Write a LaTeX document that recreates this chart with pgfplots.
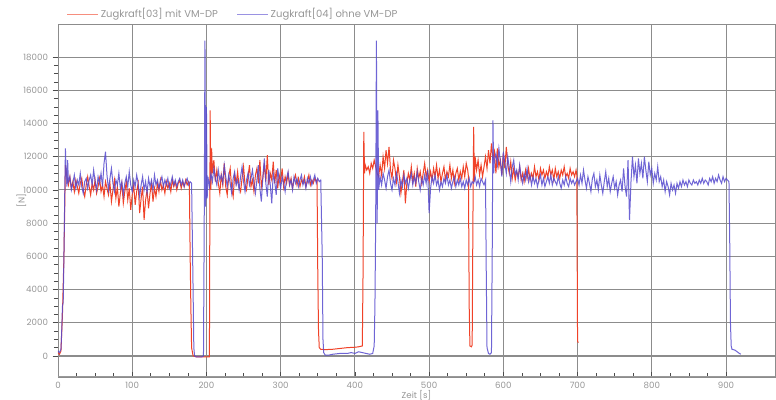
\documentclass[border=0pt]{standalone}
\usepackage{pgfplots}
\pgfplotsset{compat=1.18}
\usepackage{fontspec}
\setmainfont{Poppins}
\definecolor{cred}{RGB}{240,66,40}
\definecolor{cblue}{RGB}{86,74,206}
\definecolor{gridc}{RGB}{140,140,140}
\definecolor{txtc}{RGB}{150,150,150}
\begin{document}
\begin{tikzpicture}
\useasboundingbox (-43.5pt,-17.25pt) rectangle (538.5pt,282.75pt);
\begin{axis}[
 at={(0,0)}, anchor=south west,
 scale only axis, width=537.75pt, height=264.75pt,
 xmin=0, xmax=966, ymin=-1270, ymax=20000,
 xtick={0,100,...,900}, ytick={0,2000,...,18000},
 minor x tick num=3, minor y tick num=3,
 scaled y ticks=false,
 /pgf/number format/1000 sep={},
 /pgf/number format/assume math mode=true,
 grid=major, major grid style={gridc, line width=0.7pt},
 axis line style={gridc, line width=0.6pt},
 tick pos=left, ytick align=outside, xtick align=inside,
 tick style={black!70, line width=0.5pt},
 major tick length=4pt, minor tick length=3pt,
 tick label style={font=\fontsize{6.5}{7}\selectfont, text=txtc},
 label style={font=\fontsize{6.5}{7}\selectfont, text=txtc},
 xlabel={Zeit [s]}, ylabel={[N]},
 xlabel style={yshift=5pt}, ylabel style={yshift=-9pt},
 legend style={at={(0.01,1)}, anchor=south west, draw=none, fill=none,
   font=\fontsize{7.5}{9}\selectfont\color{txtc}, inner sep=1pt,
   /tikz/every even column/.append style={column sep=12pt}},
 legend columns=2, legend cell align=left,
 legend image code/.code={\draw[#1, opacity=0.6] (0cm,0cm) -- (0.8cm,0cm);},
]
\draw[gridc, line width=1pt] (axis cs:0,0) -- (axis cs:966,0);
\draw[gray!80, line width=2pt] (rel axis cs:0,0) -- (rel axis cs:1,0);
\addplot[cred, line width=0.75pt] coordinates {
(0,200)(2,100)(4,300)(6,2500)(8,6000)(10,11500)(12,10800)(14,10300)(16,10800)(18,10100)(20,10500)(22,9900)(24,10600)(26,10200)(28,9800)(30,10400)(32,10700)(34,10000)(36,9600)(38,10300)(40,10800)(42,10200)(44,9700)(46,10400)(48,10000)(50,10600)(52,9800)(54,10200)(56,10700)(58,9900)(60,10300)(62,9600)(64,10500)(66,10100)(68,9700)(70,10400)(72,9300)(74,10000)(76,10600)(78,9500)(80,10200)(82,9000)(84,9800)(86,10400)(88,9200)(90,9900)(92,10500)(94,9400)(96,10100)(98,8800)(100,9700)(102,10300)(104,9100)(106,9900)(108,10400)(110,8600)(112,9500)(114,10200)(116,8200)(118,9400)(120,10000)(122,8900)(124,9800)(126,10400)(128,9300)(130,10100)(132,9600)(134,10400)(136,9900)(138,10600)(140,10000)(142,10300)(144,9800)(146,10500)(148,10100)(150,10400)(152,9900)(154,10600)(156,10200)(158,10500)(160,10000)(162,10400)(164,10600)(166,10100)(168,10500)(170,10200)(172,10600)(174,10300)(176,10500)(177,10400)(178,6200)(179,3000)(180,500)(182,0)(186,-50)(190,-50)(195,-50)(200,-50)(204,-50)
(205,14800)(206,10000)(207,12500)(208,11000)(210,11800)(212,10500)(214,11200)(216,10400)(218,9800)(220,10900)(222,10300)(224,11600)(226,10200)(228,9700)(230,10800)(232,11300)(234,10100)(236,9600)(238,10900)(240,10400)(242,11100)(244,10200)(246,9900)(248,10700)(250,11400)(252,10300)(254,10000)(256,10800)(258,11500)(260,10200)(262,10600)(264,9900)(266,10900)(268,11300)(270,10400)(272,11800)(274,10200)(276,10700)(278,11600)(280,10500)(282,12100)(284,10300)(286,11000)(288,10600)(290,11700)(292,10400)(294,11200)(296,10100)(298,10900)(300,10500)(302,11300)(304,10200)(306,10800)(308,10400)(310,11000)(312,10300)(314,10700)(316,10100)(318,10600)(320,10900)(322,10300)(324,10700)(326,10200)(328,10600)(330,10400)(332,10800)(334,10200)(336,10500)(338,10900)(340,10300)(342,10600)(344,10400)(346,10700)(348,10500)(349,10600)
(350,5000)(351,1500)(352,500)(354,400)(360,380)(370,400)(380,450)(390,500)(400,520)(405,550)(410,600)(411,5000)(412,13500)(413,11000)(414,11500)(416,11200)(418,11400)(420,11000)(422,11600)(424,11300)(426,11800)(428,11400)(430,11000)(432,10800)(434,11500)(436,10900)(438,12000)(440,11300)(442,12400)(444,11600)(446,12600)(448,11200)(450,10700)(452,11800)(454,11300)(456,10500)(458,11500)(460,10800)(462,9800)(464,10500)(466,11200)(468,9200)(470,10400)(472,11000)(474,10600)(476,11400)(478,10500)(480,11000)(482,10200)(484,11300)(486,10700)(488,11100)(490,10400)(492,11000)(494,11600)(496,10800)(498,11200)(500,10500)(502,11100)(504,10600)(506,11300)(508,10800)(510,11500)(512,10700)(514,11200)(516,10500)(518,11000)(520,11400)(522,10600)(524,11100)(526,10800)(528,11500)(530,10700)(532,11200)(534,10400)(536,11000)(538,11300)(540,10600)(542,11100)(544,10700)(546,11400)(548,10800)(550,11600)(552,11200)(553,10800)
(554,3000)(555,600)(557,550)(558,650)(559,8000)(560,13800)(561,10500)(562,12000)(564,11200)(566,11800)(568,10900)(570,11500)(572,10800)(574,11400)(576,12000)(578,11300)(580,12400)(582,11600)(584,12800)(586,11800)(588,12300)(590,11000)(592,12500)(594,11400)(596,11800)(598,10900)(600,12200)(602,11300)(604,12600)(606,11500)(608,11000)(610,11700)(612,10700)(614,11300)(616,10600)(618,11100)(620,10800)(622,11400)(624,10600)(626,11000)(628,10500)(630,11200)(632,10700)(634,11300)(636,10600)(638,11000)(640,10700)(642,11400)(644,10800)(646,11100)(648,10600)(650,11300)(652,10900)(654,11200)(656,10700)(658,11100)(660,10800)(662,11400)(664,10900)(666,11200)(668,10600)(670,11300)(672,10800)(674,11100)(676,10700)(678,11200)(680,10900)(682,11400)(684,10800)(686,11000)(688,10700)(690,11300)(692,10900)(694,11100)(696,10800)(698,11200)(699,10900)(700,900)(701,800)
};
\addlegendentry{Zugkraft[03] mit VM-DP}
\addplot[cblue, line width=0.75pt, opacity=0.85] coordinates {
(0,300)(2,200)(4,400)(5,1500)(6,3000)(7,3200)(8,6000)(9,9500)(10,12500)(11,11000)(12,10200)(13,11800)(14,10500)(16,10800)(18,10000)
(20,10400)(22,10900)(24,10100)(26,10600)(28,10300)(30,11000)(32,10200)(34,9800)(36,10500)(38,10700)(40,10100)(42,10600)(44,10900)(46,10300)(48,11200)(50,10500)(52,10000)(54,10800)(56,10400)(58,11000)(60,10200)(62,11600)(64,12300)(66,10900)(68,10000)(70,10700)(72,11300)(74,10400)(76,9900)(78,10600)(80,10300)(82,11000)(84,10100)(86,10500)(88,9700)(90,10400)(92,10800)(94,10200)(96,11100)(98,10300)(100,9900)(102,10600)(104,10200)(106,10900)(108,10400)(110,9600)(112,10300)(114,10800)(116,10000)(118,10500)(120,9800)(122,10700)(124,10200)(126,10600)(128,10000)(130,10900)(132,10300)(134,10600)(136,10100)(138,10500)(140,10800)(142,10200)(144,10600)(146,10300)(148,10700)(150,10100)(152,10400)(154,10800)(156,10300)(158,10600)(160,10200)(162,10500)(164,10700)(166,10300)(168,10600)(170,10200)(172,10500)(174,10700)(176,10300)(178,10500)(180,10400)
(182,4000)(183,500)(184,0)(186,-50)(190,-50)(194,-50)(196,0)(197,8000)(198,19000)(199,9000)(200,15000)(201,9500)(202,10800)(204,10200)
(206,11000)(208,10500)(210,11300)(212,10700)(214,10300)(216,11200)(218,10600)(220,10900)(222,10400)(224,11500)(226,10800)(228,10200)(230,10900)(232,10400)(234,9800)(236,10700)(238,11100)(240,10300)(242,10600)(244,10000)(246,10800)(248,11400)(250,10500)(252,9900)(254,10600)(256,11000)(258,10300)(260,10700)(262,11200)(264,10400)(266,9800)(268,10600)(270,11500)(272,10100)(274,9300)(276,10800)(278,11900)(280,10400)(282,9600)(284,11200)(286,10300)(288,9200)(290,11000)(292,10500)(294,9700)(296,11300)(298,10600)(300,10100)(302,10800)(304,10400)(306,9900)(308,10700)(310,11100)(312,10300)(314,10600)(316,10000)(318,10800)(320,10400)(322,10700)(324,10200)(326,10600)(328,10900)(330,10300)(332,10600)(334,10100)(336,10700)(338,10400)(340,10800)(342,10300)(344,10600)(346,10900)(348,10400)(350,10700)(352,10500)(354,10600)
(356,6000)(357,1000)(358,200)(360,50)(365,50)(370,100)(380,150)(390,150)(395,200)(400,150)(405,250)(410,200)(415,150)(420,100)(424,150)(426,600)(427,3000)(428,8000)(429,19000)(430,8000)(431,14800)(432,10000)
(434,10800)(436,10300)(438,11000)(440,10600)(442,10100)(444,10800)(446,11200)(448,10400)(450,10000)(452,10700)(454,10300)(456,11000)(458,10500)(460,9800)(462,10600)(464,10200)(466,10900)(468,10400)(470,10700)(472,10100)(474,10600)(476,11000)(478,10300)(480,10800)(482,10400)(484,11100)(486,10500)(488,10000)(490,10700)(492,10300)(494,10900)(496,10400)(498,11200)(500,8600)(502,10100)(504,10800)(506,10400)(508,10900)(510,10300)(512,10600)(514,10000)(516,10500)(518,10200)(520,10700)(522,10400)(524,10900)(526,10300)(528,10600)(530,10100)(532,10500)(534,10800)(536,10200)(538,10600)(540,10300)(542,10700)(544,10200)(546,10500)(548,10100)(550,10600)(552,10300)(554,10700)(556,10200)(558,10500)(560,10400)(562,10800)(564,10300)(566,10600)(568,10200)(570,10700)(572,10500)(574,10300)(576,10600)
(577,5000)(578,500)(580,150)(582,100)(584,200)(585,6000)(586,14200)(587,11000)(588,11800)(590,12200)(592,11500)(594,12500)(596,11700)(598,10800)(600,12300)(602,11600)(604,11000)(606,12000)(608,11300)(610,10500)(612,11400)(614,11800)(616,10900)(618,11200)(620,10600)(622,11500)(624,10800)(626,10400)(628,11000)(630,10600)(632,11300)(634,10500)(636,10900)(638,10300)(640,10800)(642,10400)(644,10700)(646,10200)(648,10600)(650,10900)(652,10300)(654,10700)(656,10200)(658,10500)(660,10800)(662,10400)(664,10900)(666,10300)(668,10700)(670,10500)(672,10300)(674,10800)(676,10400)(678,10100)(680,10600)(682,10300)(684,10800)(686,10400)(688,10200)(690,10700)(692,10400)(694,10600)(696,10300)(698,10500)(700,10700)
(702,10300)(704,10900)(706,10400)(708,11200)(710,10600)(712,10100)(714,10800)(716,10400)(718,9900)(720,10700)(722,11000)(724,10200)(726,10600)(728,10000)(730,10900)(732,10300)(734,9800)(736,10500)(738,11100)(740,10200)(742,10700)(744,9900)(746,10400)(748,10800)(750,10100)(752,10500)(754,9700)(756,10300)(758,10600)(760,9900)(762,11300)(764,10200)(766,9600)(768,11800)(770,8200)(772,10500)(774,12000)(776,10800)(778,11500)(780,10400)(782,11900)(784,11000)(786,11600)(788,10700)(790,12000)(792,11200)(794,10500)(796,11700)(798,10900)(800,11300)(802,10400)(804,11000)(806,10600)(808,11400)(810,10500)(812,10800)(814,10200)(816,10600)(818,9900)(820,10500)(822,10200)(824,9700)(826,10400)(828,10000)(830,10300)(832,9800)(834,10400)(836,10100)(838,10500)(840,10200)(842,10600)(844,10300)(846,10500)(848,10200)(850,10600)(852,10400)(854,10300)(856,10600)(858,10400)(860,10500)(862,10300)(864,10600)(866,10400)(868,10700)(870,10400)(872,10600)(874,10500)(876,10300)(878,10700)(880,10500)(882,10800)(884,10400)(886,10700)(888,10500)(890,10900)(892,10600)(894,10400)(896,10800)(898,10500)(900,10700)(902,10600)(904,10500)
(905,7000)(906,2000)(907,600)(908,400)(912,350)(915,250)(918,150)(920,100)
};
\addlegendentry{Zugkraft[04] ohne VM-DP}
\end{axis}
\end{tikzpicture}
\end{document}
